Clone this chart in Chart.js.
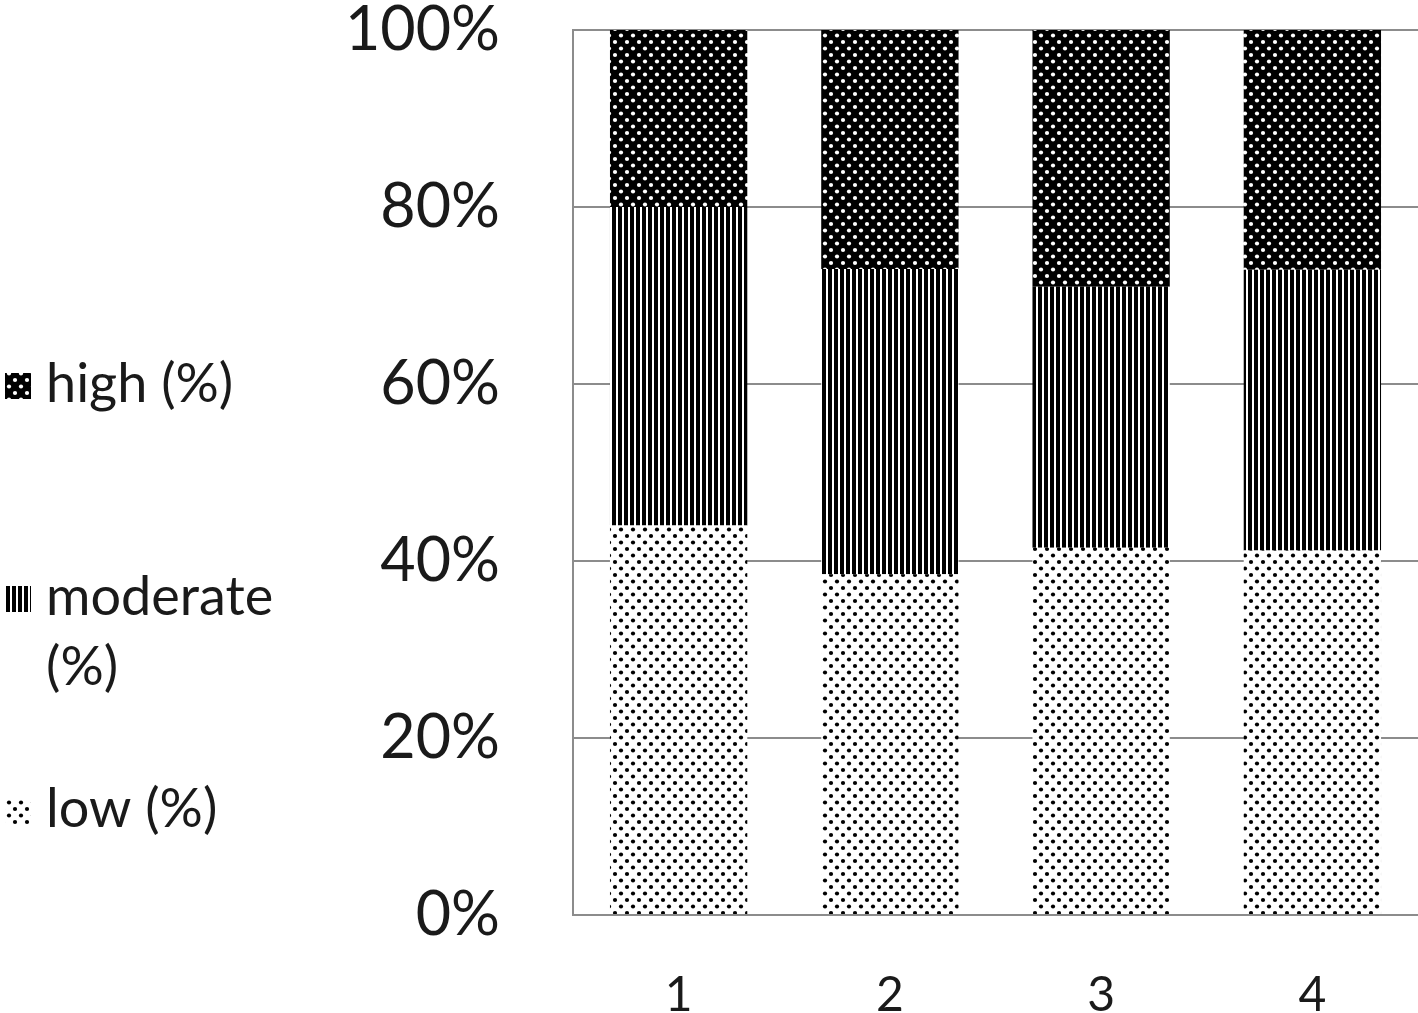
<!DOCTYPE html>
<html>
<head>
<meta charset="utf-8">
<script src="https://cdn.jsdelivr.net/npm/chart.js@4.4.1/dist/chart.umd.min.js"></script>
<style>
  html, body { margin: 0; padding: 0; background: #fff; }
  canvas { display: block; }
</style>
</head>
<body>
<canvas id="chart" width="1418" height="1013"></canvas>
<script>
// Data (percent of each group)
const categories = ['1', '2', '3', '4'];
const lowValues = [44, 38.5, 41.5, 41.2];
const moderateValues = [36, 34.5, 29.5, 31.7];
const highValues = [20, 27, 29, 27.1];
const yTicks = [0, 20, 40, 60, 80, 100];

const FONT = "Lato, 'Open Sans', sans-serif";

// Build the fill patterns
function dotPattern(bg, dot) {
    const c = document.createElement('canvas');
    c.width = 12; c.height = 13;
    const g = c.getContext('2d');
    g.fillStyle = bg;
    g.fillRect(0, 0, 12, 13);
    g.fillStyle = dot;
    [[3, 3], [9, 9.5]].forEach(([x, y]) => {
        g.beginPath();
        g.arc(x, y, 2.1, 0, Math.PI * 2);
        g.fill();
    });
    return g.createPattern(c, 'repeat');
}

function stripePattern() {
    const c = document.createElement('canvas');
    c.width = 6; c.height = 6;
    const g = c.getContext('2d');
    g.fillStyle = '#fff';
    g.fillRect(0, 0, 6, 6);
    g.fillStyle = '#000';
    g.fillRect(0, 0, 4, 6);
    return g.createPattern(c, 'repeat');
}

const ctx = document.getElementById('chart').getContext('2d');
const lowFill = dotPattern('#fff', '#000');
const moderateFill = stripePattern();
const highFill = dotPattern('#000', '#fff');

// Legend drawn on the left, stacked like the original (with wrapped label)
const sideLegend = {
    id: 'sideLegend',
    afterDraw(chart) {
        const g = chart.ctx;
        const items = [
            { fill: highFill, lines: ['high (%)'], y: 385 },
            { fill: moderateFill, lines: ['moderate', '(%)'], y: 598 },
            { fill: lowFill, lines: ['low (%)'], y: 810 }
        ];
        g.save();
        g.font = `54px ${FONT}`;
        g.textBaseline = 'middle';
        items.forEach(item => {
            g.fillStyle = item.fill;
            g.fillRect(5, item.y - 12, 26, 26);
            g.fillStyle = '#1a1a1a';
            item.lines.forEach((line, i) => {
                g.fillText(line, 46, item.y + i * 70);
            });
        });
        g.restore();
    }
};

new Chart(ctx, {
    type: 'bar',
    data: {
        labels: categories,
        datasets: [
            { label: 'low (%)', data: lowValues, backgroundColor: lowFill },
            { label: 'moderate (%)', data: moderateValues, backgroundColor: moderateFill },
            { label: 'high (%)', data: highValues, backgroundColor: highFill }
        ]
    },
    options: {
        responsive: false,
        animation: false,
        devicePixelRatio: 1,
        layout: { padding: { top: 30, right: 0, left: 0, bottom: 0 } },
        datasets: {
            bar: { categoryPercentage: 1, barPercentage: 0.65, borderWidth: 0 }
        },
        plugins: {
            legend: { display: false },
            tooltip: { enabled: false }
        },
        scales: {
            x: {
                stacked: true,
                grid: { display: false, drawTicks: false },
                border: { display: true, color: '#8c8c8c', width: 2 },
                ticks: {
                    color: '#1a1a1a',
                    padding: 52,
                    font: { family: FONT, size: 48 }
                },
                afterFit(scale) {
                    scale.height = 98;
                    scale.paddingLeft = 0;
                    scale.paddingRight = 0;
                }
            },
            y: {
                stacked: true,
                min: 0,
                max: 100,
                afterBuildTicks(scale) {
                    scale.ticks = yTicks.map(v => ({ value: v }));
                },
                grid: { color: '#8c8c8c', lineWidth: 2, drawTicks: false },
                border: { display: true, color: '#8c8c8c', width: 2 },
                ticks: {
                    color: '#1a1a1a',
                    padding: 73,
                    font: { family: FONT, size: 61 },
                    callback: v => v + '%'
                },
                afterFit(scale) {
                    scale.width = 573;
                    scale.paddingTop = 0;
                    scale.paddingBottom = 0;
                }
            }
        }
    },
    plugins: [sideLegend]
});
</script>
</body>
</html>
